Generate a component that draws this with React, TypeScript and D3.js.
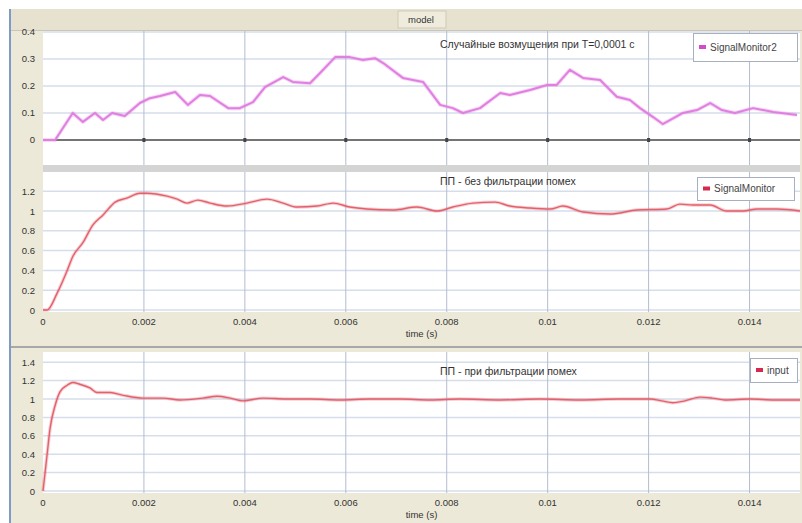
import React from "react";
import * as d3 from "d3";

const W = 802;
const H = 523;

// x axis (seconds)
const xDomain = [0, 0.015];
const xTicks = [0, 0.002, 0.004, 0.006, 0.008, 0.01, 0.012, 0.014];
const xTickLabels = ["0", "0.002", "0.004", "0.006", "0.008", "0.01", "0.012", "0.014"];

// Panel 1: random disturbances
const noiseTime = [0, 0.00008, 0.00024, 0.00059, 0.00079, 0.00103, 0.00119, 0.00137, 0.00162, 0.00192, 0.00212, 0.00232, 0.00262, 0.00287, 0.00311, 0.00331, 0.00367, 0.0039, 0.00416, 0.0044, 0.00476, 0.00495, 0.00529, 0.00549, 0.00579, 0.00608, 0.00634, 0.00658, 0.00674, 0.00713, 0.00753, 0.00787, 0.00812, 0.00832, 0.00866, 0.00906, 0.00925, 0.00965, 0.00999, 0.01018, 0.01044, 0.0107, 0.01104, 0.01137, 0.01163, 0.01183, 0.01209, 0.01228, 0.01268, 0.01296, 0.01322, 0.01345, 0.01371, 0.01407, 0.01447, 0.01494];
const noiseValue = [0, 0, 0, 0.1, 0.067, 0.1, 0.074, 0.1, 0.089, 0.137, 0.155, 0.163, 0.178, 0.13, 0.167, 0.163, 0.118, 0.118, 0.14, 0.196, 0.233, 0.215, 0.21, 0.248, 0.307, 0.307, 0.296, 0.303, 0.285, 0.23, 0.215, 0.13, 0.118, 0.1, 0.118, 0.174, 0.167, 0.185, 0.204, 0.204, 0.26, 0.23, 0.222, 0.16, 0.148, 0.118, 0.085, 0.059, 0.1, 0.111, 0.137, 0.111, 0.1, 0.118, 0.104, 0.093];

// Panel 2: transient without noise filtering
const rawTime = [0, 0.00008, 0.00028, 0.00048, 0.00059, 0.00079, 0.00099, 0.00119, 0.00143, 0.00166, 0.00192, 0.00206, 0.00246, 0.00266, 0.00285, 0.00307, 0.00331, 0.00365, 0.00404, 0.00444, 0.00476, 0.00503, 0.00543, 0.00575, 0.00608, 0.00642, 0.00694, 0.00741, 0.00781, 0.00812, 0.00852, 0.00896, 0.00925, 0.00965, 0.01005, 0.0103, 0.0107, 0.01124, 0.01177, 0.01236, 0.01262, 0.01288, 0.01322, 0.01355, 0.01387, 0.01415, 0.01454, 0.015];
const rawValue = [0, 0, 0.17, 0.4, 0.54, 0.68, 0.86, 0.96, 1.09, 1.13, 1.18, 1.18, 1.15, 1.12, 1.08, 1.11, 1.08, 1.05, 1.08, 1.12, 1.08, 1.04, 1.05, 1.08, 1.04, 1.02, 1.01, 1.04, 1.0, 1.04, 1.08, 1.09, 1.05, 1.03, 1.02, 1.05, 0.99, 0.97, 1.01, 1.02, 1.07, 1.06, 1.06, 1.0, 1.0, 1.02, 1.02, 1.0];

// Panel 3: transient with noise filtering
const filtTime = [0, 0.00008, 0.00014, 0.00024, 0.00034, 0.00048, 0.00059, 0.00073, 0.00093, 0.00107, 0.00133, 0.00159, 0.00198, 0.00238, 0.00271, 0.00317, 0.00345, 0.00371, 0.00396, 0.00436, 0.00483, 0.00529, 0.00589, 0.00648, 0.00707, 0.00767, 0.00826, 0.00906, 0.00985, 0.01064, 0.01143, 0.01203, 0.01226, 0.01248, 0.01272, 0.01302, 0.01326, 0.01351, 0.01401, 0.0145, 0.015];
const filtValue = [0, 0.39, 0.68, 0.93, 1.08, 1.15, 1.18, 1.16, 1.12, 1.07, 1.07, 1.04, 1.01, 1.01, 0.99, 1.01, 1.03, 1.01, 0.98, 1.01, 1.0, 1.0, 0.99, 1.0, 1.0, 0.99, 1.0, 0.99, 1.0, 0.99, 1.0, 1.0, 0.98, 0.96, 0.98, 1.02, 1.01, 0.99, 1.0, 0.99, 0.99];

const yTicks1 = [0, 0.1, 0.2, 0.3, 0.4];
const yTickLabels1 = ["0", "0.1", "0.2", "0.3", "0.4"];
const yTicks2 = [0, 0.2, 0.4, 0.6, 0.8, 1, 1.2];
const yTickLabels2 = ["0", "0.2", "0.4", "0.6", "0.8", "1", "1.2"];
const yTicks3 = [0, 0.2, 0.4, 0.6, 0.8, 1, 1.2, 1.4];
const yTickLabels3 = ["0", "0.2", "0.4", "0.6", "0.8", "1", "1.2", "1.4"];

const panelTitles = [
  "Случайные возмущения при T=0,0001 с",
  "ПП - без фильтрации помех",
  "ПП - при фильтрации помех",
];
const legendNames = ["SignalMonitor2", "SignalMonitor", "input"];
const chartTitle = "model";
const xAxisTitle = "time (s)";

const BG = "#ECE9D8";
const FONT = "'Liberation Sans', Arial, sans-serif";
const PLOT_L = 43;
const PLOT_R = 800;

type Panel = {
  top: number;
  bottom: number;
  yDomain: [number, number];
  yTicks: number[];
  yLabels: string[];
  t: number[];
  v: number[];
  color: string;
  marker: string;
  width: number;
  smooth: boolean;
  title: string;
  titleY: number;
  legend: string;
  legendBox: [number, number, number, number];
  xAxis: boolean;
  zeroLine: boolean;
};

const panels: Panel[] = [
  {
    top: 31, bottom: 165, yDomain: [-0.0926, 0.4037], yTicks: yTicks1, yLabels: yTickLabels1,
    t: noiseTime, v: noiseValue, color: "#E07FE0", marker: "#D04CC8", width: 2, smooth: false,
    title: panelTitles[0], titleY: 48, legend: legendNames[0], legendBox: [693, 33, 104, 28],
    xAxis: false, zeroLine: true,
  },
  {
    top: 172, bottom: 312, yDomain: [-0.02, 1.394], yTicks: yTicks2, yLabels: yTickLabels2,
    t: rawTime, v: rawValue, color: "#E3616C", marker: "#D42A50", width: 1.4, smooth: true,
    title: panelTitles[1], titleY: 185, legend: legendNames[1], legendBox: [697, 177, 97, 23],
    xAxis: true, zeroLine: false,
  },
  {
    top: 352, bottom: 493, yDomain: [-0.0217, 1.511], yTicks: yTicks3, yLabels: yTickLabels3,
    t: filtTime, v: filtValue, color: "#E3616C", marker: "#D42A50", width: 1.4, smooth: true,
    title: panelTitles[2], titleY: 375, legend: legendNames[2], legendBox: [750, 358, 47, 24],
    xAxis: true, zeroLine: false,
  },
];

function PanelView({ p }: { p: Panel }) {
  const x = d3.scaleLinear().domain(xDomain).range([PLOT_L, PLOT_R]);
  const y = d3.scaleLinear().domain(p.yDomain).range([p.bottom, p.top]);
  const pts = p.t.map((t, i) => [t, p.v[i]] as [number, number]);
  const line = d3
    .line<[number, number]>()
    .x((d) => x(d[0]))
    .y((d) => y(d[1]))
    .curve(p.smooth ? d3.curveMonotoneX : d3.curveLinear);
  const path = line(pts) || "";
  const [lx, ly, lw, lh] = p.legendBox;
  return (
    <g>
      <rect x={PLOT_L} y={p.top} width={PLOT_R - PLOT_L} height={p.bottom - p.top} fill="#FFFFFF" />
      {p.yTicks.map((v) => (
        <line key={"hg" + v} x1={PLOT_L} x2={PLOT_R} y1={y(v)} y2={y(v)} stroke="#D6DEEB" strokeWidth={1.5} />
      ))}
      {xTicks.slice(1).map((t) => (
        <line key={"vg" + t} x1={x(t)} x2={x(t)} y1={p.top} y2={p.bottom} stroke="#B3BDD0" strokeWidth={1} />
      ))}
      {p.zeroLine && (
        <g>
          <line x1={PLOT_L} x2={PLOT_R} y1={y(0)} y2={y(0)} stroke="#747474" strokeWidth={2} />
          {xTicks.slice(1).map((t) => (
            <rect key={"zt" + t} x={x(t) - 1.5} y={y(0) - 2} width={3} height={4} fill="#444" />
          ))}
        </g>
      )}
      <path d={path} fill="none" stroke={p.color} strokeOpacity={0.3} strokeWidth={p.width + 2} strokeLinejoin="round" />
      <path d={path} fill="none" stroke={p.color} strokeWidth={p.width} strokeLinejoin="round" />
      {p.yTicks.map((v, i) => (
        <text key={"yl" + v} x={35} y={y(v) + 3.5} textAnchor="end" fontSize={9.5} fill="#333" fontFamily={FONT}>
          {p.yLabels[i]}
        </text>
      ))}
      <text x={440} y={p.titleY} fontSize={10.5} fill="#333" fontFamily={FONT}>{p.title}</text>
      <rect x={lx + 0.5} y={ly + 0.5} width={lw} height={lh} fill="#FFFFFF" stroke="#A8B0C0" strokeWidth={1} />
      <rect x={lx + 6} y={ly + lh / 2 - 2} width={7} height={4} fill={p.marker} />
      <text x={lx + 17} y={ly + lh / 2 + 3.5} fontSize={10} fill="#444" fontFamily={FONT}>{p.legend}</text>
      {p.xAxis && (
        <g>
          {xTicks.map((t, i) => (
            <text key={"xl" + t} x={x(t)} y={p.bottom + 13} textAnchor="middle" fontSize={9.5} fill="#333" fontFamily={FONT}>
              {xTickLabels[i]}
            </text>
          ))}
          <text x={(PLOT_L + PLOT_R) / 2} y={p.bottom + 25} textAnchor="middle" fontSize={9.5} fill="#333" fontFamily={FONT}>
            {xAxisTitle}
          </text>
        </g>
      )}
    </g>
  );
}

export default function App() {
  return (
    <svg width={W} height={H} style={{ position: "absolute", left: 0, top: 0, background: "#FFFFFF" }}>
      <rect x={9} y={9} width={W - 9} height={H - 9} fill={BG} />
      <line x1={10} x2={10} y1={9} y2={H} stroke="#7E9BC6" strokeWidth={2} />
      <rect x={11} y={9} width={W - 11} height={21} fill="#E6E2CF" />
      <rect x={398} y={11} width={48} height={17} fill="#EFECDD" stroke="#CFCAB6" />
      <text x={421} y={23} textAnchor="middle" fontSize={9.5} fill="#333" fontFamily={FONT}>{chartTitle}</text>
      <line x1={11} x2={W} y1={30.5} y2={30.5} stroke="#C9C6B8" />
      <rect x={PLOT_L} y={165} width={PLOT_R - PLOT_L} height={7} fill="#D4D4D4" />
      <line x1={11} x2={W} y1={347} y2={347} stroke="#A8A8A8" strokeWidth={2} />
      {panels.map((p, i) => (
        <PanelView key={i} p={p} />
      ))}
    </svg>
  );
}
